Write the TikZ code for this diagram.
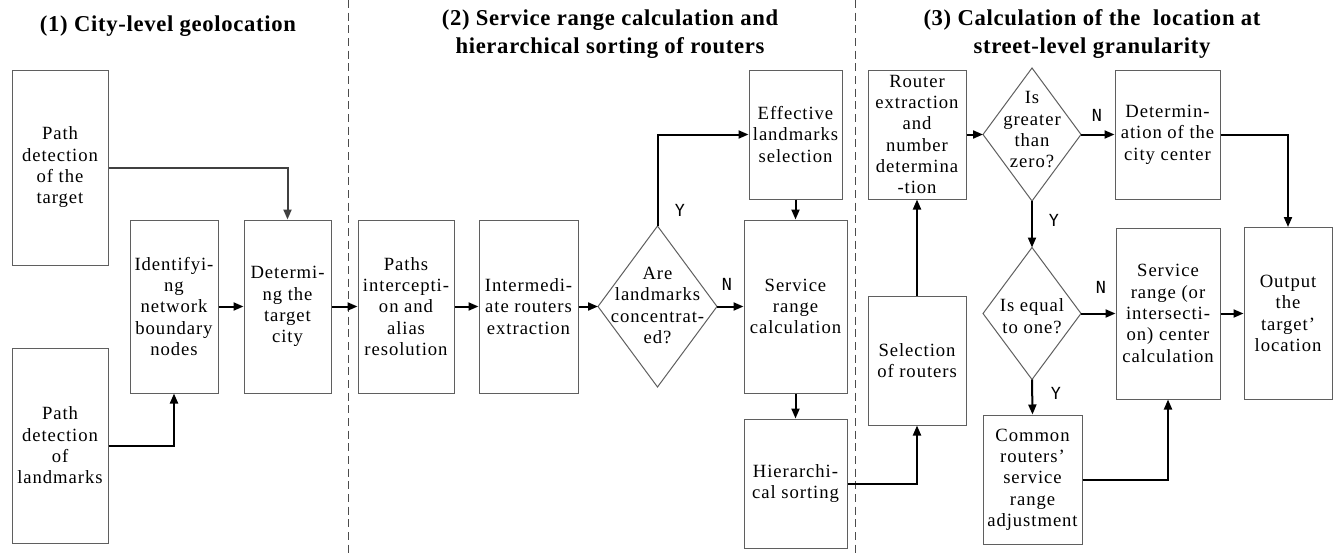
\documentclass[tikz,border=0pt]{standalone}
\usepackage{fontspec}
\setmainfont{Liberation Serif}
\newfontfamily\bodyserif{Liberation Serif}[LetterSpace=5]
\newfontfamily\ttlfont{Liberation Serif}[LetterSpace=3]
\newfontfamily\ynfont{DejaVu Sans Mono}
\usetikzlibrary{shapes.geometric,arrows.meta}
\definecolor{boxgray}{RGB}{95,95,95}
\newcommand{\bodyfont}{\bodyserif\fontsize{14}{16}\selectfont}
\begin{document}
\begin{tikzpicture}[x=0.75pt,y=-0.75pt,
  box/.style={draw=boxgray, line width=0.75pt, inner sep=0pt, align=center, font=\bodyfont},
  sz/.style 2 args={minimum width=#1*0.75pt, minimum height=#2*0.75pt},
  dia/.style={draw=boxgray, line width=0.75pt, shape=diamond, inner sep=0pt, outer sep=0pt},
  txt/.style={align=center, inner sep=0pt, font=\bodyfont},
  arr/.style={draw=black, line width=1.5pt, -{Triangle[length=7.5pt,width=6pt]}},
  yn/.style={font=\ynfont\fontsize{12.5}{14}\selectfont, inner sep=0pt},
  ttl/.style={font=\ttlfont\bfseries\fontsize{17}{21}\selectfont, align=center, inner sep=0pt},
  sep/.style={draw=black!70, line width=0.75pt, dash pattern=on 6pt off 3.5pt}]
\path[fill=white] (0,0) rectangle (1338,557);
\useasboundingbox (0,0) rectangle (1338,557);

% separators
\draw[sep] (348,0) -- (348,557);
\draw[sep] (855,0) -- (855,557);

% titles
\node[ttl] (t1) at (168,26) {(1) City-level geolocation};
\node[ttl] (t2) at (610,34) {(2) Service range calculation and\\hierarchical sorting of routers};
\node[ttl] (t3) at (1092,34) {(3) Calculation of the\ \ location at\\street-level granularity};

% section 1
\node[box, sz={96}{195}] (pt) at (60,167.5) {Path\\detection\\of the\\target};
\node[box, sz={96}{195}] (pl) at (60,445.5) {Path\\detection\\of\\landmarks};
\node[box, sz={88}{173}] (id) at (174,306.5) {Identifyi-\\ng\\network\\boundary\\nodes};
\node[box, sz={87}{173}] (det) at (287.5,306.5) {Determi-\\ng the\\target\\city};

% section 2
\node[box, sz={96}{173}] (pa) at (406,306.5) {Paths\\intercepti-\\on and\\alias\\resolution};
\node[box, sz={99}{173}] (im) at (528.5,306.5) {Intermedi-\\ate routers\\extraction};
\node[dia, sz={119}{161}] (d0) at (657.5,306.5) {};
\node[txt] (d0t) at (657.5,305.5) {Are\\landmarks\\concentrat-\\ed?};
\node[box, sz={93}{129}] (ef) at (795.5,134.5) {Effective\\landmarks\\selection};
\node[box, sz={103}{173}] (sv) at (795.5,306.5) {Service\\range\\calculation};
\node[box, sz={103}{129}] (hi) at (795.5,483.5) {Hierarchi-\\cal sorting};

% section 3
\node[box, sz={98}{129}] (ro) at (917,134.5) {Router\\extraction\\and\\number\\determina\\-tion};
\node[box, sz={98}{129}] (se) at (917,360.5) {Selection\\of routers};
\node[dia, sz={98}{133}] (d1) at (1032,134.5) {};
\node[txt] (d1t) at (1032,130) {Is\\greater\\than\\zero?};
\node[box, sz={105}{129}] (dc) at (1167.5,134.5) {Determin-\\ation of the\\city center};
\node[dia, sz={98}{132}] (d2) at (1032,313.5) {};
\node[txt] (d2t) at (1032,316) {Is equal\\to one?};
\node[box, sz={104}{171}] (s2) at (1168,313.5) {Service\\range (or\\intersecti-\\on) center\\calculation};
\node[box, sz={88}{172}] (ou) at (1288,313.5) {Output\\the\\target’\\location};
\node[box, sz={99}{129}] (co) at (1032.5,479.5) {Common\\routers’\\service\\range\\adjustment};

% connectors
\draw[arr, draw=black!75] (pt.east) -| (det.north);
\draw[arr] (pl.east) -| (id.south);
\draw[arr] (id.east) -- (det.west);
\draw[arr] (det.east) -- (pa.west);
\draw[arr] (pa.east) -- (im.west);
\draw[arr] (im.east) -- (d0.west);
\draw[arr] (d0.north) |- (ef.west);
\draw[arr] (d0.east) -- (sv.west);
\draw[arr] (ef.south) -- (sv.north);
\draw[arr] (sv.south) -- (hi.north);
\draw[arr] (hi.east) -| (se.south);
\draw[arr] (se.north) -- (ro.south);
\draw[arr] (ro.east) -- (d1.west);
\draw[arr] (d1.east) -- (dc.west);
\draw[arr] (dc.east) -| (ou.north);
\draw[arr] (d1.south) -- (d2.north);
\draw[arr] (d2.east) -- (s2.west);
\draw[arr] (s2.east) -- (ou.west);
\draw[arr] (d2.south) -- (co.north);
\draw[arr] (co.east) -| (s2.south);

% Y / N labels
\node[yn] (y0) at (680,210) {Y};
\node[yn] (n0) at (727,284) {N};
\node[yn] (n1) at (1097,115) {N};
\node[yn] (y1) at (1054,220) {Y};
\node[yn] (n2) at (1101,287) {N};
\node[yn] (y2) at (1056,393) {Y};
\end{tikzpicture}
\end{document}
